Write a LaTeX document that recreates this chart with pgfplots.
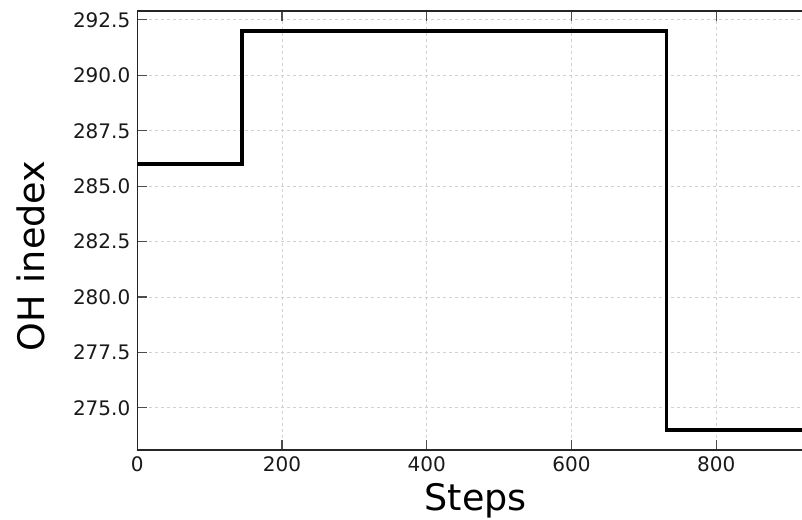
\documentclass[border=0pt]{standalone}
\usepackage{fontspec}
\setmainfont{DejaVu Sans}
\usepackage{pgfplots}
\pgfplotsset{compat=1.18}
\begin{document}
\begin{tikzpicture}[x=1pt,y=1pt]
\useasboundingbox (0,0) rectangle (802,519);
\begin{axis}[
  at={(137.3pt,69pt)}, anchor=south west,
  scale only axis,
  width=676.7pt, height=439pt,
  xmin=0, xmax=935,
  ymin=273.1, ymax=292.9,
  xtick={0,200,400,600,800},
  ytick={275,277.5,280,282.5,285,287.5,290,292.5},
  y tick label style={/pgf/number format/fixed,/pgf/number format/fixed zerofill,/pgf/number format/precision=1, xshift=-3.5pt},
  /pgf/number format/assume math mode=true,
  scaled y ticks=false,
  tick align=inside,
  major tick length=10pt,
  tick style={line width=1.2pt, color=black!70},
  axis line style={line width=1.3pt, color=black!85},
  grid=major,
  major grid style={dashed, color=black!18, line width=0.8pt},
  ticklabel style={font=\fontsize{20}{22}\selectfont, color=black!90},
  x tick label style={yshift=-3pt},
  xlabel={Steps},
  ylabel={OH inedex},
  label style={font=\fontsize{36.5}{40}\selectfont, inner sep=0pt},
  xlabel style={at={(axis description cs:0.5,-0.1367)}, anchor=base},
  ylabel style={at={(axis description cs:-0.1364,0.442)}, anchor=base},
]
\addplot[black, line width=3.6pt, line join=miter, mark=none] coordinates {
  (0,286) (145,286) (145,292) (731,292) (731,274) (935,274)
};
\end{axis}
\end{tikzpicture}
\end{document}
